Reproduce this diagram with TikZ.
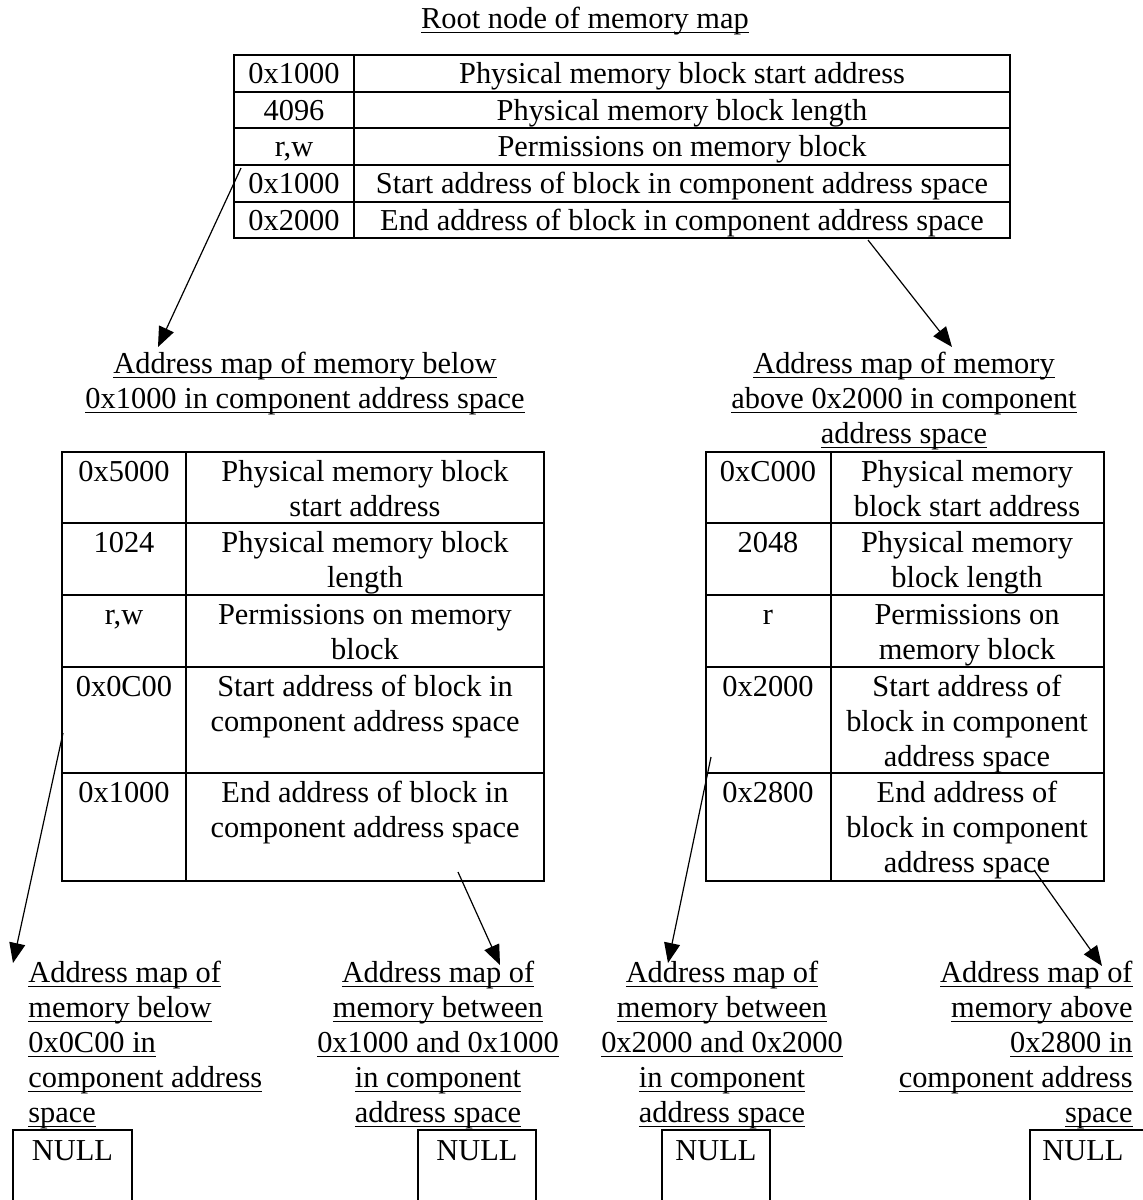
\documentclass[tikz,border=0pt]{standalone}
\usepackage{fontspec}
\setmainfont{Liberation Serif}
\usetikzlibrary{arrows.meta}
\newcommand\ULn[1]{\setbox0=\hbox{#1}\rlap{\rule[-2.4pt]{\wd0}{0.6pt}}\box0}
\begin{document}
\begin{tikzpicture}[x=0.5pt,y=-0.5pt,
  txt/.style={font=\fontsize{15.2}{17.5}\selectfont, inner sep=0pt, align=center},
  cell/.style={txt, anchor=north},
  gridline/.style={line width=1pt},
  arr/.style={line width=0.6pt, -{Triangle[length=10pt,width=8pt]}},
  nullbox/.style={draw, line width=1pt}
]
\useasboundingbox (0,0) rectangle (1143,1200);

% ---------- title ----------
\node[cell] (title) at (585,3.5) {\strut\ULn{Root node of memory map}};

% ---------- root table ----------
\draw[gridline] (234,55) rectangle (1010,238);
\foreach \yy in {92,128,165,202} \draw[gridline] (234,\yy) -- (1010,\yy);
\draw[gridline] (354,55) -- (354,238);
\node[cell] (r1a) at (294,59) {\strut 0x1000};
\node[cell] (r1b) at (682,59) {\strut Physical memory block start address};
\node[cell] (r2a) at (294,96) {\strut 4096};
\node[cell] (r2b) at (682,96) {\strut Physical memory block length};
\node[cell] (r3a) at (294,132) {\strut r,w};
\node[cell] (r3b) at (682,132) {\strut Permissions on memory block};
\node[cell] (r4a) at (294,169) {\strut 0x1000};
\node[cell] (r4b) at (682,169) {\strut Start address of block in component address space};
\node[cell] (r5a) at (294,206) {\strut 0x2000};
\node[cell] (r5b) at (682,206) {\strut End address of block in component address space};

% ---------- middle titles ----------
\node[cell] (mlt) at (305,348.5) {\strut\ULn{Address map of memory below}\\\ULn{0x1000 in component address space}};
\node[cell] (mrt) at (904,348.5) {\strut\ULn{Address map of memory}\\\ULn{above 0x2000 in component}\\\ULn{address space}};

% ---------- left table ----------
\draw[gridline] (62,452) rectangle (544,881);
\foreach \yy in {523,595,667,773} \draw[gridline] (62,\yy) -- (544,\yy);
\draw[gridline] (186,452) -- (186,881);
\node[cell] (l1a) at (124,457) {\strut 0x5000};
\node[cell] (l1b) at (365,457) {\strut Physical memory block\\start address};
\node[cell] (l2a) at (124,528) {\strut 1024};
\node[cell] (l2b) at (365,528) {\strut Physical memory block\\length};
\node[cell] (l3a) at (124,600) {\strut r,w};
\node[cell] (l3b) at (365,600) {\strut Permissions on memory\\block};
\node[cell] (l4a) at (124,672) {\strut 0x0C00};
\node[cell] (l4b) at (365,672) {\strut Start address of block in\\component address space};
\node[cell] (l5a) at (124,778) {\strut 0x1000};
\node[cell] (l5b) at (365,778) {\strut End address of block in\\component address space};

% ---------- right table ----------
\draw[gridline] (706,452) rectangle (1104,881);
\foreach \yy in {523,595,667,773} \draw[gridline] (706,\yy) -- (1104,\yy);
\draw[gridline] (831,452) -- (831,881);
\node[cell] (q1a) at (768,457) {\strut 0xC000};
\node[cell] (q1b) at (967,457) {\strut Physical memory\\block start address};
\node[cell] (q2a) at (768,528) {\strut 2048};
\node[cell] (q2b) at (967,528) {\strut Physical memory\\block length};
\node[cell] (q3a) at (768,600) {\strut r};
\node[cell] (q3b) at (967,600) {\strut Permissions on\\memory block};
\node[cell] (q4a) at (768,672) {\strut 0x2000};
\node[cell] (q4b) at (967,672) {\strut Start address of\\block in component\\address space};
\node[cell] (q5a) at (768,778) {\strut 0x2800};
\node[cell] (q5b) at (967,778) {\strut End address of\\block in component\\address space};

% ---------- bottom labels ----------
\node[txt, anchor=north west, align=left] (b1) at (28,957.5)
  {\strut\ULn{Address map of}\\\ULn{memory below}\\\ULn{0x0C00 in}\\\ULn{component address}\\\ULn{space}};
\node[cell] (b2) at (438,957.5)
  {\strut\ULn{Address map of}\\\ULn{memory between}\\\ULn{0x1000 and 0x1000}\\\ULn{in component}\\\ULn{address space}};
\node[cell] (b3) at (722,957.5)
  {\strut\ULn{Address map of}\\\ULn{memory between}\\\ULn{0x2000 and 0x2000}\\\ULn{in component}\\\ULn{address space}};
\node[txt, anchor=north east, align=right] (b4) at (1133,957.5)
  {\strut\ULn{Address map of}\\\ULn{memory above}\\\ULn{0x2800 in}\\\ULn{component address}\\\ULn{space}};

% ---------- NULL boxes ----------
\draw[nullbox] (13,1210) -- (13,1130) -- (132,1130) -- (132,1210);
\draw[nullbox] (418,1210) -- (418,1130) -- (536,1130) -- (536,1210);
\draw[nullbox] (662,1210) -- (662,1130) -- (770,1130) -- (770,1210);
\draw[nullbox] (1030,1210) -- (1030,1130) -- (1160,1130);
\node[cell] (n1) at (72.5,1135.5) {\strut NULL};
\node[cell] (n2) at (477,1135.5) {\strut NULL};
\node[cell] (n3) at (716,1135.5) {\strut NULL};
\node[cell] (n4) at (1083,1135.5) {\strut NULL};

% ---------- connectors ----------
\coordinate (s1) at (241,168);  \coordinate (e1) at (158,347);
\coordinate (s2) at (868,240);  \coordinate (e2) at (952,347);
\coordinate (s3) at (63,733);   \coordinate (e3) at (13,963);
\coordinate (s4) at (458,872);  \coordinate (e4) at (500,965);
\coordinate (s5) at (711,757);  \coordinate (e5) at (668,963);
\coordinate (s6) at (1034,870); \coordinate (e6) at (1102,966);
\draw[arr] (s1) -- (e1);
\draw[arr] (s2) -- (e2);
\draw[arr] (s3) -- (e3);
\draw[arr] (s4) -- (e4);
\draw[arr] (s5) -- (e5);
\draw[arr] (s6) -- (e6);
\end{tikzpicture}
\end{document}
